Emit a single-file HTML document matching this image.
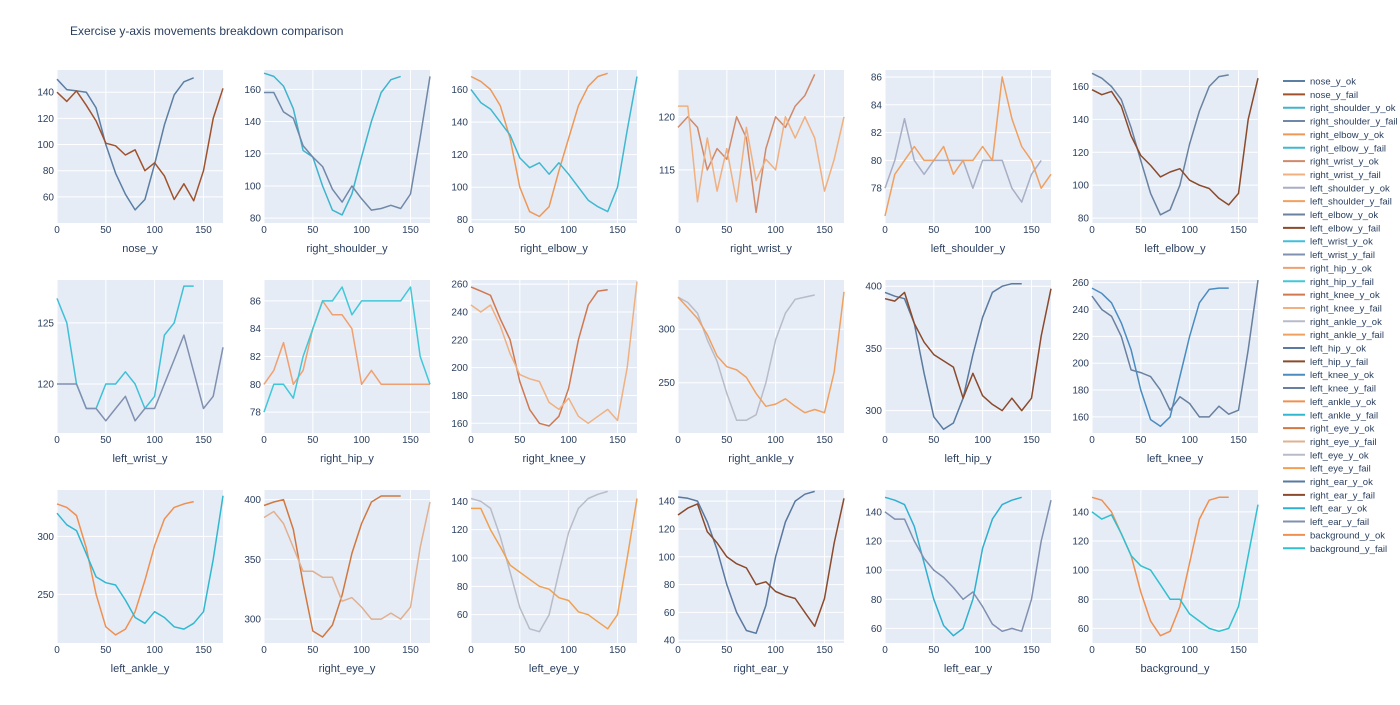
<!DOCTYPE html>
<html><head><meta charset="utf-8"><style>
body{margin:0;background:#fff;font-family:"Liberation Sans",sans-serif;}
svg text{font-family:"Liberation Sans",sans-serif;}
</style></head><body>
<svg id="chart" width="1400" height="700" xmlns="http://www.w3.org/2000/svg">
<text x="70" y="35" font-size="12" fill="#2a3f5f">Exercise y-axis movements breakdown comparison</text>
</svg>
<script>
const names=["nose_y","right_shoulder_y","right_elbow_y","right_wrist_y","left_shoulder_y","left_elbow_y","left_wrist_y","right_hip_y","right_knee_y","right_ankle_y","left_hip_y","left_knee_y","left_ankle_y","right_eye_y","left_eye_y","right_ear_y","left_ear_y","background_y"];
const okVals=[
[150,142,141,140,128,100,78,62,50,58,85,115,138,148,151],
[170,168,162,148,122,118,100,85,82,95,118,140,158,166,168],
[168,165,160,150,130,100,85,82,88,110,130,150,162,168,170],
[119,120,119,115,117,116,120,118,111,117,120,119,121,122,124],
[78,80,83,80,79,80,80,80,80,78,80,80,80,78,77,79,80],
[168,165,160,152,135,115,95,82,85,100,125,145,160,166,167],
[127,125,120,118,118,120,120,121,120,118,119,124,125,128,128],
[80,81,83,80,81,84,86,85,85,84,80,81,80,80,80,80,80,80],
[258,255,252,235,220,190,170,160,158,165,185,220,245,255,256],
[330,325,315,290,270,240,215,215,220,250,290,315,328,330,332],
[395,392,390,370,330,295,285,290,310,345,375,395,400,402,402],
[256,252,245,230,210,180,158,153,160,190,220,245,255,256,256],
[328,325,318,290,250,222,215,220,235,262,292,315,325,328,330],
[395,398,400,375,330,290,285,295,320,355,380,398,403,403,403],
[142,140,135,115,90,65,50,48,60,90,118,135,142,145,147],
[143,142,140,125,105,80,60,47,45,65,100,125,140,145,147],
[150,148,145,130,105,80,62,55,60,80,115,135,145,148,150],
[150,148,140,125,110,85,65,55,58,75,105,135,148,150,150]];
const failVals=[
[140,133,141,130,118,101,99,92,96,80,86,76,58,70,57,80,120,143],
[158,158,146,142,125,118,112,98,90,100,92,85,86,88,86,95,130,168],
[160,152,148,140,132,118,112,115,108,115,108,100,92,88,85,100,135,168],
[121,121,112,118,113,117,112,119,114,116,115,120,118,120,118,113,116,120],
[76,79,80,81,80,80,81,79,80,80,81,80,86,83,81,80,78,79],
[158,155,157,148,130,118,112,105,108,110,103,100,98,92,88,95,140,165],
[120,120,120,118,118,117,118,119,117,118,118,120,122,124,121,118,119,123],
[78,80,80,79,82,84,86,86,87,85,86,86,86,86,86,87,82,80],
[245,240,245,230,210,195,192,190,175,170,178,165,160,165,170,162,200,262],
[330,320,310,295,275,265,262,255,240,228,230,235,228,222,225,222,260,335],
[390,388,395,370,355,345,340,335,310,330,312,305,300,310,300,310,360,398],
[250,240,235,220,195,193,190,180,165,175,170,160,160,168,162,165,210,262],
[320,310,305,285,265,260,258,245,230,225,235,230,222,220,225,235,280,335],
[385,390,380,360,340,340,335,335,315,318,310,300,300,305,300,310,360,398],
[135,135,120,108,95,90,85,80,78,72,70,62,60,55,50,60,100,142],
[130,135,138,118,110,100,95,92,80,82,75,72,70,60,50,70,110,142],
[140,135,135,120,108,100,95,88,80,85,75,63,58,60,58,80,120,148],
[140,135,138,125,110,103,100,90,80,80,70,65,60,58,60,75,110,145]];
const yMins=[40,77,78,110,75.5,77,116,76.5,153,203,282,148,208,280,40,38,50,50];
const yMaxs=[157,172,172,124.4,86.5,170,128.5,87.5,263,346,405,262,340,408,148,148,155,155];
const yTicks=[[60,80,100,120,140],[80,100,120,140,160],[80,100,120,140,160],[115,120],[78,80,82,84,86],[80,100,120,140,160],[120,125],[78,80,82,84,86],[160,180,200,220,240,260],[250,300],[300,350,400],[160,180,200,220,240,260],[250,300],[300,350,400],[60,80,100,120,140],[40,60,80,100,120,140],[60,80,100,120,140],[60,80,100,120,140]];
const xTicks=[0,50,100,150];
const xStep=10, xMax=170;
const okColors=["#5b7ea3","#3fb4cc","#ee9858","#d08a6a","#a8aec4","#6a82a0","#3fc0d8","#f0a070","#d07850","#b8bcc8","#5a7aa0","#4a8cc0","#f09050","#d07840","#b8bcc8","#5a78a0","#30b0d0","#f09050"];
const failColors=["#a0522d","#7088a8","#3fb8d0","#f0b080","#f0a060","#8b4a2b","#8090b0","#40c8d8","#f0b080","#f0a060","#8b4a2b","#6880a0","#30b8d0","#e0b090","#f0a050","#8b4a2b","#8090b0","#30c0d0"];
const svg=document.getElementById('chart');
const NS="http://www.w3.org/2000/svg";
function mk(tag,attrs,parent){const e=document.createElementNS(NS,tag);for(const k in attrs)e.setAttribute(k,attrs[k]);(parent||svg).appendChild(e);return e;}
const colX=[57,264,471,678,885,1092], rowY=[70,280,490], W=166, H=153;
for(let i=0;i<18;i++){
  const x0=colX[i%6], y0=rowY[Math.floor(i/6)];
  const g=mk('g',{});
  
  
  const sx=v=>x0+v/xMax*W;
  const sy=v=>y0+H-(v-yMins[i])/(yMaxs[i]-yMins[i])*H;
  mk('rect',{x:x0,y:y0,width:W,height:H,fill:'#e5ecf6'},g);
  xTicks.forEach(t=>{
    mk('line',{x1:sx(t),x2:sx(t),y1:y0,y2:y0+H,stroke:'#fff','stroke-width':1},g);
    const tx=mk('text',{x:sx(t),y:y0+H+10,'font-size':10,fill:'#2a3f5f','text-anchor':'middle'},g);
    tx.textContent=t;
  });
  yTicks[i].forEach(t=>{
    mk('line',{x1:x0,x2:x0+W,y1:sy(t),y2:sy(t),stroke:'#fff','stroke-width':1},g);
    const tx=mk('text',{x:x0-3,y:sy(t)+3.5,'font-size':10,fill:'#2a3f5f','text-anchor':'end'},g);
    tx.textContent=t;
  });
  const xt=mk('text',{x:x0+W/2,y:y0+H+29,'font-size':11,fill:'#2a3f5f','text-anchor':'middle'},g);
  
  
  xt.textContent=names[i];
  [[okVals[i],okColors[i],'ok'],[failVals[i],failColors[i],'fail']].forEach(([vals,c,k])=>{
    const pts=vals.map((v,j)=>sx(Math.min(j*xStep,xMax)).toFixed(1)+','+sy(v).toFixed(1)).join(' ');
    const p=mk('polyline',{points:pts,fill:'none',stroke:c,'stroke-width':1.5,'stroke-linejoin':'round'},g);
    
    
  });
}
const lg=mk('g',{});


for(let i=0;i<36;i++){
  const s=Math.floor(i/2), ok=i%2===0;
  const y=81+i*13.35;
  const e=mk('g',{},lg);
  
  
  mk('line',{x1:1283,x2:1305,y1:y,y2:y,stroke:ok?okColors[s]:failColors[s],'stroke-width':2},e);
  const t=mk('text',{x:1310,y:y+3.5,'font-size':9.5,fill:'#2a3f5f'},e);
  t.textContent=names[s]+(ok?'_ok':'_fail');
}
</script>
</body></html>
